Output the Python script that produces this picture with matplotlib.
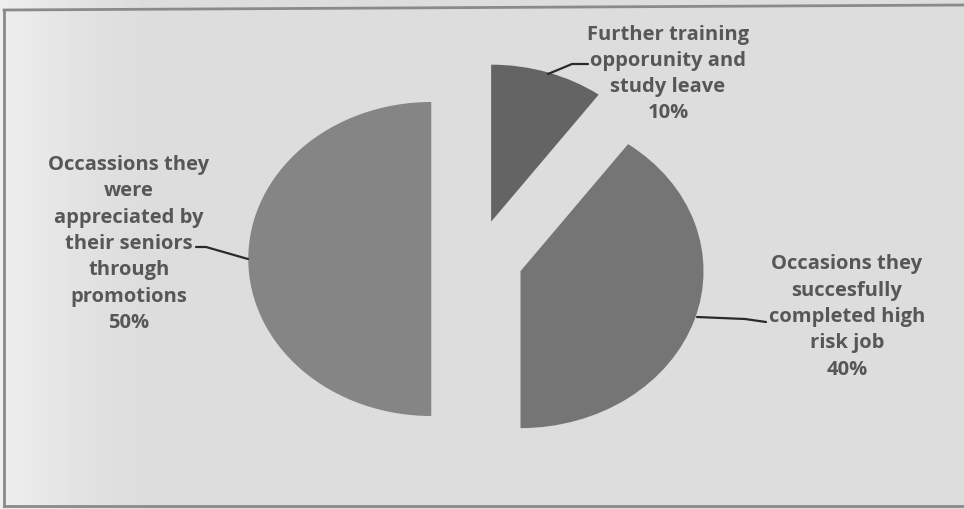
import numpy as np
import matplotlib.pyplot as plt
from matplotlib.lines import Line2D

# slices, clockwise from 12 o'clock
labels = ["Further training\nopporunity and\nstudy leave",
          "Occasions they\nsuccesfully\ncompleted high\nrisk job",
          "Occassions they\nwere\nappreciated by\ntheir seniors\nthrough\npromotions"]
shares = [10, 40, 50]
slice_colors = ["#646464", "#757575", "#858585"]

W, H = 964, 510
fig = plt.figure(figsize=(W / 100, H / 100), dpi=100)

# paper background, brighter towards the left edge
bg = fig.add_axes([0, 0, 1, 1])
xs = np.linspace(0, 1, W)
shade = 0.865 + 0.07 * np.clip(1 - xs / 0.16, 0, 1) ** 1.5
bg.imshow(np.tile(shade, (H, 1)), cmap="gray", vmin=0, vmax=1,
          aspect="auto", extent=(0, 1, 0, 1))
bg.set_axis_off()

ax = fig.add_axes([0, 0, 1, 1])
ax.patch.set_alpha(0)

# pixel -> data (pie centre at 477,260; radius 183 px wide, 157 px tall)
CX, CY, RX, RY = 477, 260, 183, 157


def px(x, y):
    return (x - CX) / RX, (CY - y) / RY


ax.pie(shares, startangle=90, counterclock=False, explode=[0.25] * 3,
       colors=slice_colors, wedgeprops=dict(linewidth=0))
ax.set_aspect("auto")
x0, y0 = px(0, H)
x1, y1 = px(W, 0)
ax.set_xlim(x0, x1)
ax.set_ylim(y0, y1)
ax.set_axis_off()

# data labels with leader lines
label_pos = [(668, 74), (847, 317), (129, 244)]
leaders = [[(548, 75), (572, 65), (588, 65)],
           [(697, 318), (745, 320), (766, 323)],
           [(248, 260), (206, 248), (196, 248)]]
for lab, val, (lx, ly), pts in zip(labels, shares, label_pos, leaders):
    tx, ty = px(lx, ly)
    ax.text(tx, ty, f"{lab}\n{val}%", ha="center", va="center",
            family="Open Sans", weight="bold", fontsize=14.5, color="#575757",
            linespacing=1.42)
    lxs, lys = zip(*[px(a, b) for a, b in pts])
    ax.plot(lxs, lys, color="#2a2a2a", lw=1.6, solid_capstyle="round")

# chart border
for (a, b), (c, d) in [((4, 11), (W, 6)), ((4, 11), (4, 507)), ((4, 507), (W, 507))]:
    fig.add_artist(Line2D([a / W, c / W], [1 - b / H, 1 - d / H],
                          transform=fig.transFigure, color="#8a8a8a", lw=2))

fig.savefig("out.png", dpi=100)
